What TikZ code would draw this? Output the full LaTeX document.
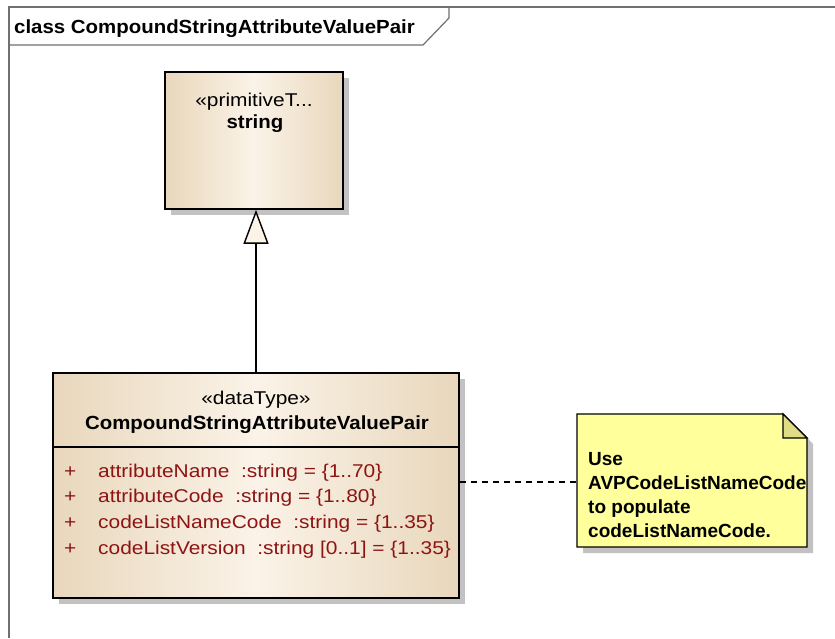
\documentclass[tikz,border=0pt]{standalone}
\usepackage{fontspec}
\setmainfont{Liberation Sans}
\newfontfamily\umlreg[FakeStretch=1.13]{Liberation Sans}
\newfontfamily\umlbold[FakeStretch=1.075]{Liberation Sans}
\usetikzlibrary{arrows.meta}
\definecolor{umlEdge}{HTML}{E8D7BC}
\definecolor{umlMid}{HTML}{FBF3E8}
\definecolor{noteFill}{HTML}{FFFF9C}
\definecolor{noteFold}{HTML}{DEDC84}
\definecolor{attrRed}{HTML}{8E1414}
\definecolor{frameGray}{HTML}{707070}
\definecolor{shadowGray}{HTML}{C2C2C2}
\tikzset{
  x=1pt, y=-1pt,
  classbox/.style={draw=black, line width=1.6pt, left color=umlEdge, right color=umlEdge, middle color=umlMid, minimum width=#1, inner sep=0pt},
  shadowbox/.style={fill=shadowGray, draw=none},
  txt/.style={font=\umlreg\fontsize{18.5}{23}\selectfont, inner sep=0pt},
  btxt/.style={font=\umlbold\fontsize{19}{23}\selectfont\bfseries, inner sep=0pt},
  attr/.style={font=\umlreg\fontsize{18.5}{23}\selectfont, text=attrRed, inner sep=0pt, anchor=base west},
  notetxt/.style={font=\fontsize{19}{24}\selectfont\bfseries, inner sep=0pt, anchor=base west},
}
\begin{document}
\begin{tikzpicture}
\useasboundingbox (0,0) rectangle (835,638);
\fill[white] (0,0) rectangle (835,638);
% frame
\draw[frameGray, line width=1.6pt] (9,638) -- (9,7) -- (835,7);
\draw[frameGray, line width=1.2pt] (9,45) -- (423,45) -- (449,18) -- (449,7);
\node[btxt, anchor=base west] (title) at (14,33) {class CompoundStringAttributeValuePair};

% string class
\fill[shadowbox] (171,78) rectangle (349,215);
\node[classbox=178pt, minimum height=137pt] (str) at (254,140.5) {};
\node[txt] (strst) at (254,102) {«primitiveT...};
\node[btxt] (strname) at (255,124) {string};

% dataType class
\fill[shadowbox] (59,379) rectangle (465,604);
\node[classbox=406pt, minimum height=225pt] (dt) at (256,485.5) {};
\draw[line width=1.4pt] (dt.west |- 0,447) coordinate (sepL) -- (dt.east |- 0,447) coordinate (sepR);
\node[txt] (dtst) at (256,400) {«dataType»};
\node[btxt] (dtname) at (257,425) {CompoundStringAttributeValuePair};
\node[attr] (p1) at (64,477) {+};
\node[attr] (a1) at (98,477) {attributeName\ \ :string = \{1..70\}};
\node[attr] (p2) at (64,502.5) {+};
\node[attr] (a2) at (98,502.5) {attributeCode\ \ :string = \{1..80\}};
\node[attr] (p3) at (64,528) {+};
\node[attr] (a3) at (98,528) {codeListNameCode\ \ :string = \{1..35\}};
\node[attr] (p4) at (64,554) {+};
\node[attr] (a4) at (98,554) {codeListVersion\ \ :string [0..1] = \{1..35\}};

% generalization
\draw[line width=1.4pt, -{Triangle[length=34pt, width=25pt, fill=umlMid, line width=1.4pt]}] (dt.north) -- (dt.north |- str.south);

% note
\fill[shadowbox] (583,420) -- (789,420) -- (813,444) -- (813,553) -- (583,553) -- cycle;
\draw[fill=noteFill, line width=1.4pt] (577,414) coordinate (nTL) -- (783,414) -- (807,438) -- (807,547) -- (577,547) -- cycle;
\draw[fill=noteFold, line width=1.4pt] (783,414) -- (783,438) -- (807,438) -- cycle;
\coordinate (note) at (577,482);
\node[notetxt] (n1) at (588,465) {Use};
\node[notetxt] (n2) at (588,489) {AVPCodeListNameCode};
\node[notetxt] (n3) at (588,513) {to populate};
\node[notetxt] (n4) at (588,537) {codeListNameCode.};

% note link
\draw[line width=1.3pt, dash pattern=on 6pt off 5pt] (dt.east |- note) -- (note);
\end{tikzpicture}
\end{document}
